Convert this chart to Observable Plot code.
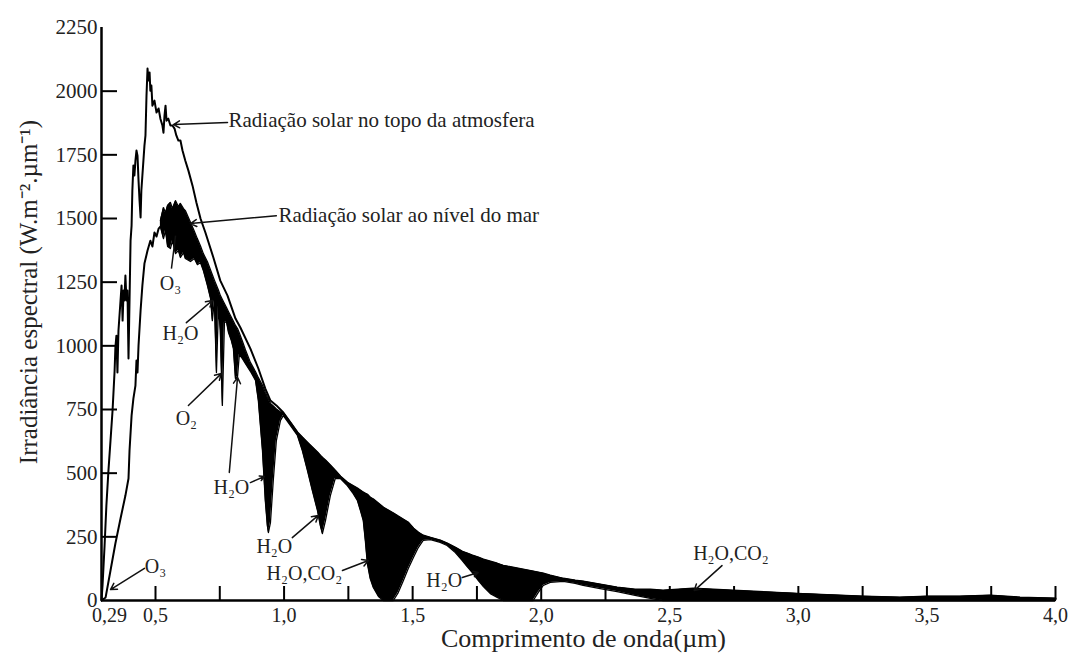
<!DOCTYPE html>
<html><head><meta charset="utf-8">
<script src="https://cdn.jsdelivr.net/npm/d3@7"></script>
<script src="https://cdn.jsdelivr.net/npm/@observablehq/plot@0.6"></script>
<style>body{margin:0;background:#fff;}</style>
</head><body><div id="chart"></div>
<script>
// Top-of-atmosphere spectral irradiance (W m-2 µm-1)
const toaWl = [0.290,0.294,0.302,0.309,0.317,0.325,0.333,0.341,0.344,0.348,0.352,0.356,0.364,0.368,0.372,0.376,0.379,0.383,0.387,0.391,0.395,0.399,0.403,0.407,0.410,0.414,0.418,0.422,0.426,0.430,0.434,0.438,0.442,0.445,0.449,0.453,0.457,0.461,0.465,0.469,0.473,0.477,0.480,0.484,0.488,0.496,0.504,0.512,0.519,0.527,0.531,0.535,0.539,0.543,0.550,0.558,0.566,0.574,0.581,0.589,0.597,0.605,0.616,0.628,0.644,0.659,0.675,0.694,0.725,0.752,0.780,0.811,0.830,0.869,0.900,0.927,0.947,0.970,
  0.997,1.025,1.052,1.071,1.091,1.110,1.130,1.141,1.149,1.161,1.180,1.199,1.219,1.246,1.266,1.285,1.297,1.308,1.316,1.324,1.335,1.347,1.367,1.386,1.425,1.444,1.464,1.483,1.503,1.522,1.541,1.569,1.607,1.634,1.666,1.693,1.712,1.732,1.755,1.775,1.802,1.829,1.852,1.969,1.988,2.008,2.035,2.086,2.132,2.163,2.229,2.295,2.365,2.424,2.474,2.591,2.746,2.995,3.252,3.395,3.500,3.628,3.745,3.862,4.000];
const toaVal = [0,59,216,373,510,628,746,903,993,1040,895,1060,1178,1237,1099,1217,1178,1276,1178,1217,950,1178,1413,1472,1610,1708,1669,1727,1767,1747,1649,1570,1504,1610,1669,1727,1786,1826,1983,2089,2042,2073,2002,2022,1943,1963,1916,1932,1892,1865,1837,1904,1943,1884,1892,1865,1865,1853,1826,1806,1806,1767,1727,1688,1629,1563,1500,1445,1347,1256,1197,1107,1072,989,911,832,785,766,
  738,699,660,640,620,601,581,569,561,550,530,510,487,463,451,440,432,424,420,416,404,397,381,365,342,330,318,306,283,267,255,247,236,224,208,192,185,177,169,161,153,145,137,114,110,106,98,86,79,75,63,51,43,43,39,47,39,27,16,12,16,16,20,12,8];

// Sea-level irradiance, ultraviolet / blue rise
const seaWl  = [0.290,0.306,0.325,0.344,0.364,0.383,0.395,0.399,0.407,0.414,0.422,0.426,0.430,0.434,0.442,0.449,0.457,0.469,0.480,0.488,0.496,0.504,0.512,0.519];
const seaVal = [0,12,118,224,322,412,479,589,726,793,844,942,895,1001,1139,1237,1323,1374,1413,1390,1445,1429,1460,1468];

// Sea-level band: lower edge (sea level with absorption) and upper edge of the absorbed part
const bandWl = [0.519,0.531,0.539,0.547,0.558,0.566,0.578,0.589,0.597,0.609,0.616,0.636,0.651,0.663,0.675,0.686,0.702,0.714,0.721,0.729,0.737,0.745,0.752,0.760,0.768,0.776,0.784,0.795,0.803,0.811,0.819,0.826,0.838,0.850,0.869,0.889,0.900,0.916,0.927,0.935,0.939,0.947,0.958,0.970,0.986,
  0.997,1.025,1.052,1.071,1.091,1.110,1.130,1.141,1.149,1.161,1.180,1.199,1.219,1.246,1.266,1.285,1.297,1.308,1.316,1.324,1.335,1.347,1.367,1.386,1.425,1.444,1.464,1.483,1.503,1.522,1.541,1.569,1.607,1.634,1.666,1.693,1.712,1.732,1.755,1.775,1.802,1.829,1.852,1.969,1.988,2.008,2.035,2.086,2.132,2.163,2.229,2.295,2.365,2.424,2.474,2.591,2.746,2.995,3.252,3.395,3.500,3.628,3.745,3.862,4.000];
const bandLow = [1468,1421,1453,1390,1382,1413,1362,1374,1347,1366,1343,1331,1343,1319,1327,1296,1237,1186,1099,1178,895,1158,1060,766,1091,1095,1052,1021,989,872,879,966,950,930,900,864,785,589,393,294,267,306,471,628,707,
  726,687,648,589,510,432,353,294,263,314,412,479,479,451,424,393,353,314,236,145,86,51,16,0,0,31,79,126,169,208,236,239,228,216,188,157,133,110,79,55,27,12,0,0,31,59,71,75,67,59,47,35,20,8,0,0,0,0,0,0,0,0,0,0,0];
const bandHigh = [1492,1543,1523,1551,1563,1539,1570,1547,1559,1539,1531,1485,1450,1420,1392,1362,1330,1298,1279,1258,1238,1218,1198,1182,1166,1150,1134,1112,1096,1080,1068,1050,1018,984,935,898,875,845,818,800,792,774,764,752,740,
  738,699,660,640,620,601,581,569,561,550,530,510,487,463,451,440,432,424,420,416,404,397,381,365,342,330,318,306,283,267,255,247,236,224,208,192,185,177,169,161,153,145,137,114,110,106,98,86,79,75,63,51,43,43,39,47,39,27,16,12,16,16,20,12,8];

// Axis ticks
const xTickMarks = [0.5,0.75,1.0,1.25,1.5,1.75,2.0,2.25,2.5,2.75,3.0,3.25,3.5,3.75,4.0];
const xOriginLabel = [0.29];
const xTickLabels = [0.5,1.0,1.5,2.0,2.5,3.0,3.5,4.0];
const yTickMarks = [250,500,750,1000,1250,1500,1750,2000];
const yTickLabels = [0,250,500,750,1000,1250,1500,1750,2000,2250];

// Curve labels
const curveText = ["Radiação solar no topo da atmosfera","Radiação solar ao nível do mar"];
const curveWl   = [0.784, 0.978];
const curveVal  = [1884, 1511];
// Absorber labels
const gasText = ["O₃","H₂O","O₂","H₂O","H₂O","H₂O,CO₂","H₂O","H₂O,CO₂","O₃"];
const gasWl   = [0.558,0.597,0.620,0.795,0.962,1.079,1.623,2.738,0.500];
const gasVal  = [1245,1048,715,444,212,106,79,185,133];
// Arrows (label -> feature)
const arrFromWl  = [0.780,0.970,0.620,0.628,0.787,0.869,1.032,1.227,1.693,2.703,0.457];
const arrFromVal = [1877,1511,1091,766,503,463,247,118,90,137,126];
const arrToWl    = [0.570,0.636,0.721,0.756,0.819,0.923,1.133,1.328,1.755,2.595,0.325];
const arrToVal   = [1869,1480,1178,891,876,487,334,157,110,39,43];
// Plain leader line for visible O3
const leadWl = [0.562, 0.578];
const leadVal = [1303, 1433];

const xTitle = "Comprimento de onda(µm)";
const yTitle = "Irradiância espectral (W.m⁻².µm⁻¹)";

const toa = toaWl.map((w,i)=>({w, v: toaVal[i]}));
const sea = seaWl.map((w,i)=>({w, v: seaVal[i]}));
const band = bandWl.map((w,i)=>({w, lo: bandLow[i], hi: bandHigh[i]}));
const curveLabels = curveText.map((t,i)=>({t, w: curveWl[i], v: curveVal[i]}));
const gasLabels = gasText.map((t,i)=>({t, w: gasWl[i], v: gasVal[i]}));
const arrows = arrFromWl.map((w,i)=>({x1: w, y1: arrFromVal[i], x2: arrToWl[i], y2: arrToVal[i]}));
const lead = [{x1: leadWl[0], y1: leadVal[0], x2: leadWl[1], y2: leadVal[1]}];

const serif = "'Liberation Serif','Times New Roman',serif";
const fmt = d => d === 0.29 ? "0,29" : d.toFixed(1).replace(".", ",");

const chart = Plot.plot({
  width: 1069, height: 655,
  marginLeft: 101, marginRight: 14, marginTop: 27, marginBottom: 55,
  style: {fontFamily: serif, fontSize: "21px", color: "#222", background: "#fff"},
  x: {domain: [0.29, 4.0], label: null},
  y: {domain: [0, 2250], label: null},
  marks: [
    Plot.areaY(band, {x: "w", y1: "lo", y2: "hi", fill: "#000"}),
    Plot.line(band, {x: "w", y: "lo", stroke: "#000", strokeWidth: 1.3}),
    Plot.line(band, {x: "w", y: "hi", stroke: "#000", strokeWidth: 1.3}),
    Plot.line(sea, {x: "w", y: "v", stroke: "#000", strokeWidth: 2}),
    Plot.line(toa, {x: "w", y: "v", stroke: "#000", strokeWidth: 2}),
    Plot.ruleX([0.29], {stroke: "#000", strokeWidth: 2.5}),
    Plot.ruleY([0], {stroke: "#000", strokeWidth: 2.5}),
    Plot.axisX({ticks: xTickMarks, tickSize: 14, dy: -14, tickFormat: () => "", strokeWidth: 2, stroke: "#000"}),
    Plot.axisX({ticks: xTickLabels, tickSize: 0, tickPadding: 7, tickFormat: fmt, fontSize: 20, fill: "#222"}),
    Plot.axisX({ticks: xOriginLabel, tickSize: 0, tickPadding: 7, dx: 8, tickFormat: fmt, fontSize: 20, fill: "#222"}),
    Plot.axisY({ticks: yTickMarks, tickSize: 16, dx: 16, tickFormat: () => "", strokeWidth: 2, stroke: "#000"}),
    Plot.axisY({ticks: yTickLabels, tickSize: 0, tickPadding: 4, tickFormat: d => String(d), fontSize: 21, fill: "#222"}),
    Plot.arrow(arrows, {x1: "x1", y1: "y1", x2: "x2", y2: "y2", stroke: "#111", strokeWidth: 1.5, headLength: 7}),
    Plot.link(lead, {x1: "x1", y1: "y1", x2: "x2", y2: "y2", stroke: "#111", strokeWidth: 1.5}),
    Plot.text(curveLabels, {x: "w", y: "v", text: "t", textAnchor: "start", fontSize: 21, fill: "#222"}),
    Plot.text(gasLabels, {x: "w", y: "v", text: "t", textAnchor: "middle", fontSize: 20, fill: "#222"}),
    Plot.text([xTitle], {frameAnchor: "bottom", dx: 5, dy: 46, fontSize: 26, fill: "#222"}),
    Plot.text([yTitle], {frameAnchor: "left", textAnchor: "middle", rotate: -90, dx: -73, dy: -22, fontSize: 25, fill: "#222"})
  ]
});
document.getElementById("chart").appendChild(chart);
</script>
</body></html>
